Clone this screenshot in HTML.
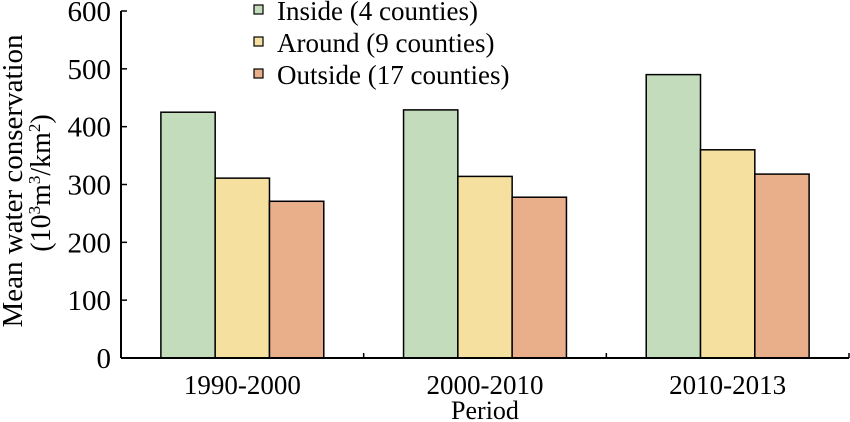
<!DOCTYPE html>
<html><head><meta charset="utf-8"><style>
html,body{margin:0;padding:0;background:#fff;}
svg{display:block;font-family:"Liberation Serif",serif;}
</style></head><body>
<svg id="chart" width="850" height="422" viewBox="0 0 850 422">
<g id="bars"></g>
<g id="axes"></g>
<text transform="translate(22,181) rotate(-90)" text-anchor="middle" font-size="29">Mean water conservation</text>
<text transform="translate(50,183) rotate(-90)" text-anchor="middle" font-size="28">(10<tspan font-size="17" dy="-10">3</tspan><tspan dy="10">m</tspan><tspan font-size="17" dy="-10">3</tspan><tspan dy="10">/km</tspan><tspan font-size="17" dy="-10">2</tspan><tspan dy="10">)</tspan></text>
<text x="485" y="419" text-anchor="middle" font-size="26">Period</text>
<g id="legend"></g>
</svg>
<script>
const categories = ["1990-2000", "2000-2010", "2010-2013"];
const seriesNames = ["Inside (4 counties)", "Around (9 counties)", "Outside (17 counties)"];
const insideValues = [425, 429, 490];
const aroundValues = [311, 314, 360];
const outsideValues = [271, 278, 318];
const yTicks = [0, 100, 200, 300, 400, 500, 600];
const colors = ["#c3dcbc", "#f5e0a0", "#e9ae8a"];
const series = [insideValues, aroundValues, outsideValues];

const NS = "http://www.w3.org/2000/svg";
const x0 = 121, x1 = 849, y0 = 358, y1 = 11, yMax = 600;
const catW = (x1 - x0) / categories.length;
const barW = 54.3;
function yScale(v){ return y0 - (v / yMax) * (y0 - y1); }
function xCenter(i){ return x0 + catW * (i + 0.5); }
function mk(tag, attrs, parent){ const e = document.createElementNS(NS, tag); for (const k in attrs) e.setAttribute(k, attrs[k]); parent.appendChild(e); return e; }

const bars = document.getElementById("bars");
series.forEach((vals, s) => {
  vals.forEach((v, i) => {
    const x = xCenter(i) - 1.5 * barW + s * barW;
    const r = mk("rect", {x: x, y: yScale(v), width: barW, height: y0 - yScale(v), fill: colors[s], stroke: "#000", "stroke-width": 1.5}, bars);
    
    
  });
});

const axes = document.getElementById("axes");
const ya = mk("line", {x1: x0, y1: y1, x2: x0, y2: y0, stroke: "#000", "stroke-width": 2}, axes);


const xa = mk("line", {x1: x0, y1: y0, x2: x1, y2: y0, stroke: "#000", "stroke-width": 2}, axes);


yTicks.forEach(t => {
  const y = yScale(t);
  mk("line", {x1: x0, y1: y, x2: x0 + 6, y2: y, stroke: "#000", "stroke-width": 1.5}, axes);
  const tx = mk("text", {x: 111, y: y + 10, "text-anchor": "end", "font-size": 29}, axes);
  tx.textContent = t;
  
  
});
for (let i = 1; i <= categories.length; i++) {
  const x = x0 + catW * i;
  mk("line", {x1: x, y1: y0, x2: x, y2: y0 - 5, stroke: "#000", "stroke-width": 1.5}, axes);
}
categories.forEach((c, i) => {
  const tx = mk("text", {x: xCenter(i), y: 394, "text-anchor": "middle", "font-size": 27}, axes);
  tx.textContent = c;
  
  
});

const legend = document.getElementById("legend");
seriesNames.forEach((n, s) => {
  const cy = 10 + s * 32;
  const r = mk("rect", {x: 254, y: cy - 5, width: 9, height: 9, fill: colors[s], stroke: "#000", "stroke-width": 1.2}, legend);
  
  
  const tx = mk("text", {x: 277, y: cy + 10, "font-size": 27}, legend);
  tx.textContent = n;
  
  
});
</script>
</body></html>
